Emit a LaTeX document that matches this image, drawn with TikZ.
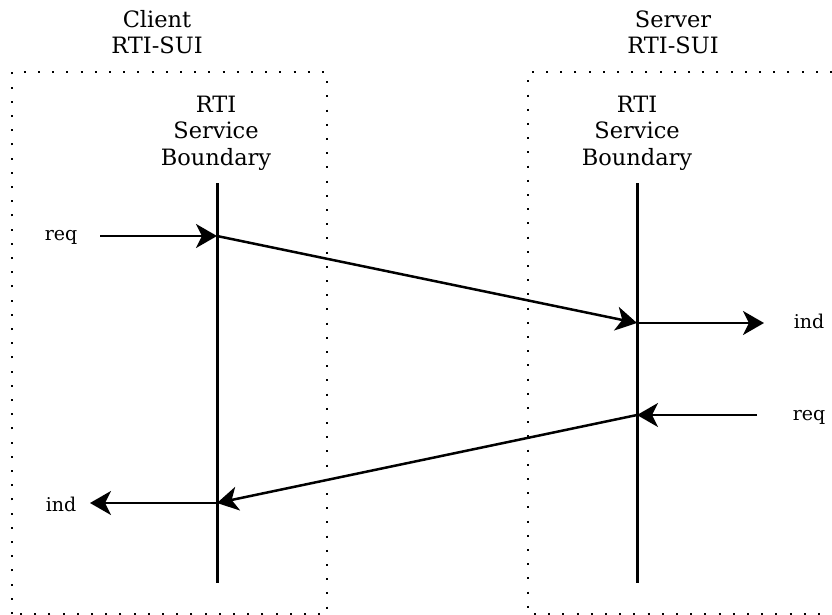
\documentclass[tikz,border=0pt]{standalone}
\usepackage{fontspec}
\setmainfont{DejaVu Serif}
\usetikzlibrary{arrows.meta}
\begin{document}
\begin{tikzpicture}[x=1pt,y=-1pt,
  txt/.style={font=\fontsize{22.5}{26.5}\selectfont, inner sep=0pt, align=center},
  lbl/.style={font=\fontsize{19}{22}\selectfont, inner sep=0pt},
  boundary/.style={line width=3pt},
  msg/.style={line width=2.5pt, -{Stealth[length=21pt,width=24pt,inset=6pt]}},
  dotbox/.style={line width=2pt, dash pattern=on 2pt off 12.2pt}]
\useasboundingbox (0,0) rectangle (832,615);
% dotted boxes
\draw[dotbox] (12,614) -- (12,72) -- (327,72) -- (327,614) -- (12,614);
\draw[dotbox] (832,72) -- (528,72) -- (528,614) -- (832,614);
% headers
\node[txt, anchor=base] (chead) at (157,54) {Client\\RTI-SUI};
\node[txt, anchor=base] (shead) at (673,54) {Server\\RTI-SUI};
\node[txt, anchor=base] (cbound) at (216,165) {RTI\\Service\\Boundary};
\node[txt, anchor=base] (sbound) at (637,165) {RTI\\Service\\Boundary};
% boundaries
\coordinate (lt) at (217,183);
\coordinate (lb) at (217,583);
\coordinate (rt) at (637,183);
\coordinate (rb) at (637,583);
\draw[boundary] (lt) -- (lb);
\draw[boundary] (rt) -- (rb);
% labels
\node[lbl, anchor=base] (reqL) at (61,240) {req};
\node[lbl, anchor=base] (indL) at (61,511) {ind};
\node[lbl, anchor=base] (indR) at (809,328) {ind};
\node[lbl, anchor=base] (reqR) at (809,420) {req};
% connector points
\coordinate (a1) at (100,236);
\coordinate (a2) at (217,236);
\coordinate (b1) at (637,323);
\coordinate (b2) at (764,323);
\coordinate (c1) at (757,415);
\coordinate (c2) at (637,415);
\coordinate (d1) at (217,503);
\coordinate (d2) at (90,503);
\draw[msg] (a1) -- (a2);
\draw[msg] (a2) -- (b1);
\draw[msg] (b1) -- (b2);
\draw[msg] (c1) -- (c2);
\draw[msg] (c2) -- (d1);
\draw[msg] (d1) -- (d2);
\end{tikzpicture}
\end{document}
